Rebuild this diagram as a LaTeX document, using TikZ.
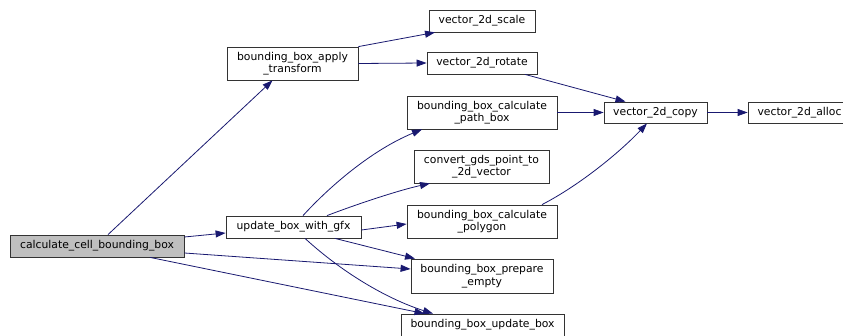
\documentclass[tikz,border=0pt]{standalone}
\usepackage{fontspec}
\setmainfont{DejaVu Sans}
\usetikzlibrary{arrows.meta}
\definecolor{edgeblue}{HTML}{191970}
\definecolor{rootgray}{HTML}{BFBFBF}
\tikzset{
  fn/.style={draw=black!80, line width=0.8pt, fill=white, inner sep=0pt,
    align=center, font=\fontsize{10.8}{12.5}\selectfont},
  root/.style={fn, fill=rootgray},
  call/.style={draw=edgeblue, line width=0.8pt,
    -{Triangle[length=10pt,width=7pt]}},
}
\begin{document}
\begin{tikzpicture}[x=1pt,y=-1pt]
\useasboundingbox (0,0) rectangle (843,336);
% function boxes
\node[root, minimum width=174pt, minimum height=22pt] (cell) at (97,246) {calculate\_cell\_bounding\_box};
\node[fn, minimum width=131pt, minimum height=33pt] (apply) at (292.5,63.5) {bounding\_box\_apply\\\_transform};
\node[fn, minimum width=135pt, minimum height=22pt] (gfx) at (293.5,227) {update\_box\_with\_gfx};
\node[fn, minimum width=106pt, minimum height=22pt] (scale) at (482,21) {vector\_2d\_scale};
\node[fn, minimum width=110pt, minimum height=22pt] (rotate) at (482,63) {vector\_2d\_rotate};
\node[fn, minimum width=150pt, minimum height=33pt] (path) at (482,112.5) {bounding\_box\_calculate\\\_path\_box};
\node[fn, minimum width=135pt, minimum height=33pt] (convert) at (481.5,166.5) {convert\_gds\_point\_to\\\_2d\_vector};
\node[fn, minimum width=150pt, minimum height=33pt] (polygon) at (482,221.5) {bounding\_box\_calculate\\\_polygon};
\node[fn, minimum width=142pt, minimum height=34pt] (prepare) at (482,276) {bounding\_box\_prepare\\\_empty};
\node[fn, minimum width=163pt, minimum height=22pt] (upd) at (482.5,325) {bounding\_box\_update\_box};
\node[fn, minimum width=103pt, minimum height=21pt] (copy) at (655.5,112.5) {vector\_2d\_copy};
\node[fn, minimum width=103pt, minimum height=21pt] (alloc) at (799.5,112.5) {vector\_2d\_alloc};
% calls
\draw[call] ([xshift=11pt]cell.north) -- ([xshift=-20pt]apply.south);
\draw[call] ([yshift=9pt]cell.east) -- ([yshift=-6pt]gfx.west);
\draw[call] ([yshift=-7pt]cell.east) -- ([yshift=7pt]prepare.west);
\draw[call] ([xshift=53pt]cell.south) -- ([xshift=-58pt]upd.north);
\draw[call] (apply.north east) -- ([xshift=-47pt]scale.south);
\draw[call] (apply.east) -- (rotate.west);
\draw[call] ([xshift=43pt]rotate.south) -- ([xshift=-30pt]copy.north);
\draw[call] (path.east) -- (copy.west);
\draw[call] (copy.east) -- (alloc.west);
\draw[call] ([xshift=60pt]polygon.north) .. controls (580,185) and (620,152) .. ([xshift=-8.5pt]copy.south);
\draw[call] ([xshift=9.5pt]gfx.north) .. controls (330,186) and (372,150) .. ([xshift=-60pt]path.south);
\draw[call] ([xshift=33.5pt]gfx.north) .. controls (360,203) and (400,190) .. ([xshift=-51.5pt]convert.south);
\draw[call] ([yshift=-3pt]gfx.east) -- ([yshift=-2.5pt]polygon.west);
\draw[call] ([xshift=41.5pt]gfx.south) -- ([xshift=-67pt]prepare.north);
\draw[call] ([xshift=11.5pt]gfx.south) .. controls (345,275) and (390,300) .. ([xshift=-49.5pt]upd.north);
\end{tikzpicture}
\end{document}
